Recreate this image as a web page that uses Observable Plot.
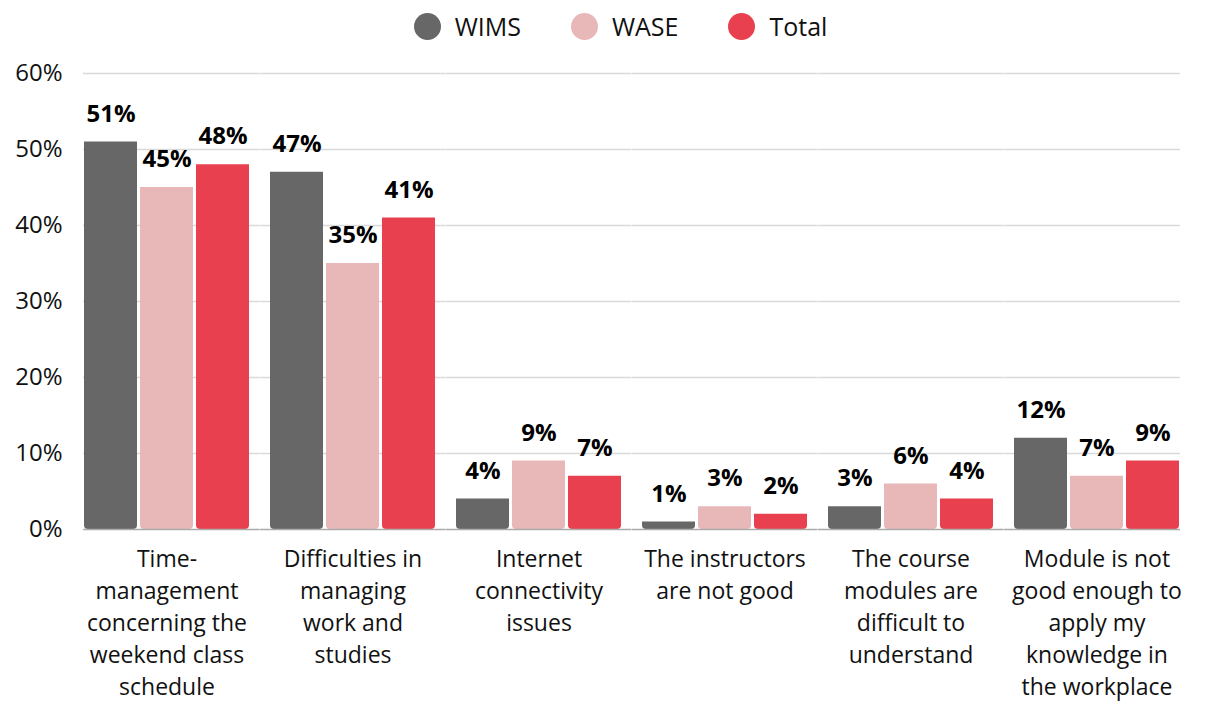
<!DOCTYPE html>
<html>
<head>
<meta charset="utf-8">
<script src="https://cdn.jsdelivr.net/npm/d3@7"></script>
<script src="https://cdn.jsdelivr.net/npm/@observablehq/plot@0.6"></script>
<style>
  html, body { margin: 0; padding: 0; background: #fff; }
  body { width: 1210px; height: 702px; overflow: hidden; font-family: "Open Sans", sans-serif; }
  #legend { height: 52px; display: flex; justify-content: center; align-items: center; gap: 50px; font-size: 25px; color: #111; padding-left: 60px; padding-right: 29px; box-sizing: border-box; }
  .item { display: flex; align-items: center; }
  .dot { width: 27px; height: 27px; border-radius: 50%; margin-right: 14px; }
  svg { display: block; }
</style>
</head>
<body>
<div id="legend"></div>
<div id="chart"></div>
<script>
const categories = [
  "Time-management concerning the weekend class schedule",
  "Difficulties in managing work and studies",
  "Internet connectivity issues",
  "The instructors are not good",
  "The course modules are difficult to understand",
  "Module is not good enough to apply my knowledge in the workplace"
];
const categoryLines = [
  "Time-\nmanagement\nconcerning the\nweekend class\nschedule",
  "Difficulties in\nmanaging\nwork and\nstudies",
  "Internet\nconnectivity\nissues",
  "The instructors\nare not good",
  "The course\nmodules are\ndifficult to\nunderstand",
  "Module is not\ngood enough to\napply my\nknowledge in\nthe workplace"
];
const seriesNames = ["WIMS", "WASE", "Total"];
const seriesColors = ["#676767", "#e8b8b9", "#e8404e"];
const wims = [51, 47, 4, 1, 3, 12];
const wase = [45, 35, 9, 3, 6, 7];
const total = [48, 41, 7, 2, 4, 9];
const yTicks = [0, 10, 20, 30, 40, 50, 60];

const seriesValues = [wims, wase, total];
const data = [];
categories.forEach((c, i) => {
  seriesNames.forEach((s, j) => {
    data.push({category: c, series: s, value: seriesValues[j][i]});
  });
});
const labelMap = new Map(categories.map((c, i) => [c, categoryLines[i]]));

// legend
const legend = document.getElementById("legend");
seriesNames.forEach((s, j) => {
  const item = document.createElement("div");
  item.className = "item";
  item.innerHTML = `<span class="dot" style="background:${seriesColors[j]}"></span><span>${s}</span>`;
  legend.appendChild(item);
});

const W = 1210, ML = 83, MR = 29;
const fxPad = 0.1;
const n = categories.length;
const step = (W - ML - MR) / (n - fxPad);
const halfGap = step * fxPad / 2;

// horizontal rules spanning the whole plot, drawn facet by facet and bridging the gaps
function spanRules(values, opts) {
  const rows = [];
  categories.forEach(c => values.forEach(v => rows.push({category: c, v})));
  const first = categories[0], last = categories[n - 1];
  return [
    Plot.ruleY(rows.filter(d => d.category === first), {fx: "category", y: "v", insetLeft: 0, insetRight: -halfGap, ...opts}),
    Plot.ruleY(rows.filter(d => d.category !== first && d.category !== last), {fx: "category", y: "v", insetLeft: -halfGap, insetRight: -halfGap, ...opts}),
    Plot.ruleY(rows.filter(d => d.category === last), {fx: "category", y: "v", insetLeft: -halfGap, insetRight: 0, ...opts})
  ];
}

const chart = Plot.plot({
  width: W,
  height: 650,
  marginTop: 21,
  marginLeft: ML,
  marginRight: MR,
  marginBottom: 173,
  style: {fontFamily: "'Open Sans', sans-serif", fontSize: "23px", color: "#111", background: "#fff"},
  fx: {domain: categories, paddingInner: fxPad, paddingOuter: 0, label: null},
  x: {domain: seriesNames, paddingInner: 0.06, paddingOuter: 0, axis: null},
  y: {domain: [0, 60], ticks: yTicks, label: null},
  color: {domain: seriesNames, range: seriesColors},
  marks: [
    ...spanRules(yTicks.filter(d => d > 0), {stroke: "#d9d9d9", strokeWidth: 1.3}),
    Plot.axisY(yTicks, {tickSize: 0, tickPadding: 21, tickFormat: d => d + "%", fontSize: 24, label: null}),
    Plot.axisFx({anchor: "bottom", tickSize: 0, tickPadding: 15, tickFormat: d => labelMap.get(d), lineHeight: 1.39, fontSize: 23, label: null}),
    Plot.barY(data, {fx: "category", x: "series", y: "value", fill: "series", ry2: 4}),
    ...spanRules([0], {stroke: "#aaaaaa", strokeWidth: 1.5}),
    Plot.text(data, {fx: "category", x: "series", y: "value", text: d => d.value + "%", dy: -28, fontWeight: "bold", fontSize: 24, fill: "#000"})
  ]
});
document.getElementById("chart").appendChild(chart);
</script>
</body>
</html>
